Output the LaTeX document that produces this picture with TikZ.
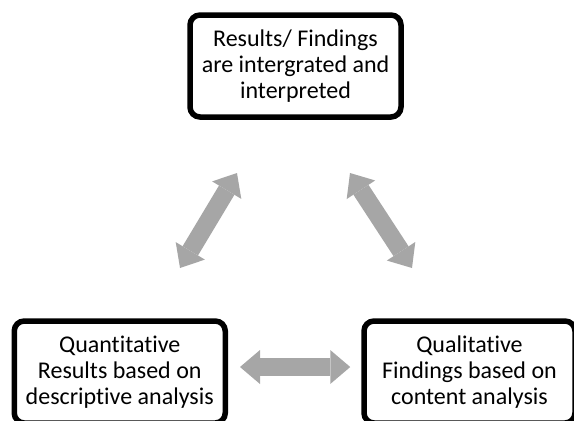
\documentclass[tikz,border=0pt]{standalone}
\usepackage{fontspec}
\setmainfont{Carlito}[Ligatures={NoCommon, NoContextual}]
\usepackage{xcolor}
\usepackage{tikz}
\usetikzlibrary{positioning, arrows.meta}

\definecolor{arrowgray}{RGB}{166,166,166}

\begin{document}
\begin{tikzpicture}[x = 1pt, y = -1pt]
            \tikzstyle{stage} = [draw=black, line width=5.5pt, rounded corners=10pt, minimum width=211pt, minimum height=102pt, inner sep=0pt, align=center, font=\fontsize{24}{26}\selectfont]
            \tikzstyle{link} = [arrowgray, line width=18pt, {Triangle[width=34pt, length=20pt, line width=0pt]}-{Triangle[width=34pt, length=20pt, line width=0pt]}]
            \useasboundingbox (0, 0) rectangle (574, 421);
            \clip (0, 0) rectangle (574, 421);

            \node [stage] (R) at (295.5, 66) {Results/ Findings\\are intergrated and\\interpreted};
            \node [stage] (Q) at (119.75, 372) {Quantitative\\Results based on\\descriptive analysis};
            \node [stage] (F) at (469.5, 372) {Qualitative\\Findings based on\\content analysis};

            \coordinate (QR1) at (180, 268);
            \coordinate (QR2) at (237, 173);
            \coordinate (RF1) at (350, 173);
            \coordinate (RF2) at (412, 268);

            \draw [link] (QR1) to (QR2);
            \draw [link] (RF1) to (RF2);
            \draw [link, shorten <= 12pt, shorten >= 11pt] ([yshift=5pt]Q.east) to ([yshift=5pt]F.west);
        \end{tikzpicture}
\end{document}
